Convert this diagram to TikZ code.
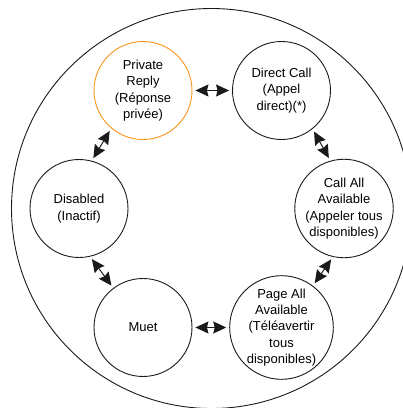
\documentclass[tikz,border=0pt]{standalone}
\usepackage{fontspec}
\setmainfont{Liberation Sans}
\usepackage{xcolor}
\usepackage{tikz}
\usetikzlibrary{arrows.meta}
\definecolor{modeOrange}{HTML}{F7941D}
\definecolor{modeLine}{HTML}{1A1A1A}
\tikzset{
  mode/.style={circle,draw=modeLine,line width=0.9pt,minimum size=98pt,inner sep=0pt,
    align=center,font=\fontsize{13}{16.3}\selectfont},
  activemode/.style={mode,draw=modeOrange},
  biarrow/.style={{Stealth[length=13pt,width=12pt,inset=1.5pt]}-{Stealth[length=13pt,width=12pt,inset=1.5pt]},
    line width=1pt,draw=modeLine,shorten <=3pt,shorten >=3pt},
  ring/.style={draw=modeLine,line width=0.9pt}
}

\begin{document}
\begin{tikzpicture}[x=1pt,y=1pt]
  \useasboundingbox (0,0) rectangle (403,408);
  \draw[ring] (211.5,199.5) circle (200);

  \node[activemode] (reply) at (143,317.5) {Private\\Reply\\(Réponse\\privée)};
  \node[mode] (direct) at (281.5,317.5) {Direct Call\\(Appel\\direct)(*)};
  \node[mode] (callall) at (344,199.5) {Call All\\Available\\(Appeler tous\\disponibles)};
  \node[mode] (pageall) at (281.5,80.5) {Page All\\Available\\(Téléavertir\\tous\\disponibles)};
  \node[mode] (muet) at (143,80.5) {Muet};
  \node[mode] (disabled) at (79,199.5) {Disabled\\(Inactif)};

  \draw[biarrow] (reply) -- (direct);
  \draw[biarrow] (direct.309) -- (callall.106);
  \draw[biarrow] (callall.257) -- (pageall.53);
  \draw[biarrow] (muet) -- (pageall);
  \draw[biarrow] (disabled.283) -- (muet.127);
  \draw[biarrow] (disabled.75) -- (reply.230);
\end{tikzpicture}
\end{document}
